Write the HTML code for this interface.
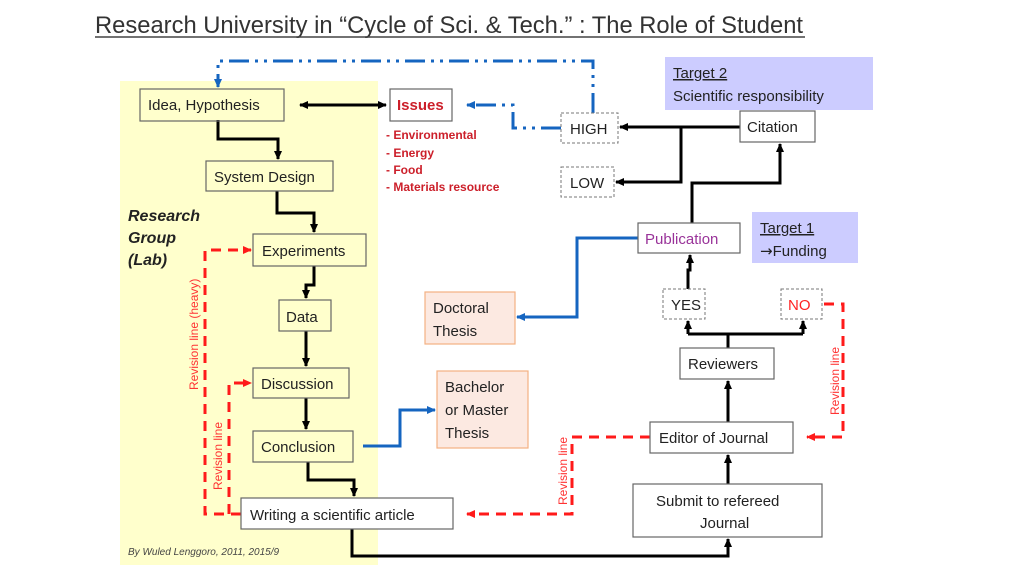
<!DOCTYPE html>
<html><head><meta charset="utf-8"><style>
html,body{margin:0;padding:0;background:#fff;}
svg{display:block;font-family:"Liberation Sans",sans-serif;}
</style></head><body>
<svg width="1024" height="576" viewBox="0 0 1024 576" xmlns="http://www.w3.org/2000/svg">
<defs>
<marker id="ak" markerWidth="10" markerHeight="10" refX="8" refY="5" orient="auto" markerUnits="userSpaceOnUse"><path d="M0,1 L9,5 L0,9 z" fill="#000"/></marker>
<marker id="akr" markerWidth="10" markerHeight="10" refX="1" refY="5" orient="auto" markerUnits="userSpaceOnUse"><path d="M9,1 L0,5 L9,9 z" fill="#000"/></marker>
<marker id="ab" markerWidth="10" markerHeight="10" refX="8" refY="5" orient="auto" markerUnits="userSpaceOnUse"><path d="M0,1 L9,5 L0,9 z" fill="#1565c0"/></marker>
<marker id="ar" markerWidth="10" markerHeight="10" refX="8" refY="5" orient="auto" markerUnits="userSpaceOnUse"><path d="M0,1 L9,5 L0,9 z" fill="#ff1a1a"/></marker>
</defs>

<text x="95" y="33" font-size="24" fill="#333" textLength="708" lengthAdjust="spacingAndGlyphs">Research University in “Cycle of Sci. &amp; Tech.” : The Role of Student</text>
<line x1="95" y1="37" x2="805" y2="37" stroke="#444" stroke-width="1.5"/>

<rect x="120" y="81" width="258" height="484" fill="#ffffcc"/>

<rect x="665" y="57" width="208" height="53" fill="#ccccff"/>
<text x="673" y="78" font-size="15" fill="#222" text-decoration="underline">Target 2</text>
<text x="673" y="101" font-size="15" fill="#222">Scientific responsibility</text>
<rect x="752" y="212" width="106" height="51" fill="#ccccff"/>
<text x="760" y="233" font-size="15" fill="#222" text-decoration="underline">Target 1</text>
<text x="760" y="256" font-size="15" fill="#222"><tspan font-family="DejaVu Sans">→</tspan>Funding</text>

<g fill="none" stroke="#000" stroke-width="3">
<path d="M218,120 V139 H278 V159" marker-end="url(#ak)"/>
<path d="M277,191 V213 H314 V232" marker-end="url(#ak)"/>
<path d="M314,266 V285 H306 V298" marker-end="url(#ak)"/>
<path d="M306,331 V366" marker-end="url(#ak)"/>
<path d="M306,398 V429" marker-end="url(#ak)"/>
<path d="M308,462 V480 H354 V496" marker-end="url(#ak)"/>
<path d="M352,529 V556 H728 V539" marker-end="url(#ak)"/>
<path d="M728,484 V455" marker-end="url(#ak)"/>
<path d="M728,422 V381" marker-end="url(#ak)"/>
<path d="M728,348 V334 M688,334 H803" />
<path d="M688,334 V321" marker-end="url(#ak)"/>
<path d="M803,334 V321" marker-end="url(#ak)"/>
<path d="M688,289 V270 H690 V255" marker-end="url(#ak)"/>
<path d="M692,223 V183 H780 V144" marker-end="url(#ak)"/>
<path d="M740,127 H620" marker-end="url(#ak)"/>
<path d="M681,127 V182 H616" marker-end="url(#ak)"/>
<path d="M300,105 H386" marker-end="url(#ak)" marker-start="url(#akr)"/>
</g>

<g fill="none" stroke="#1565c0" stroke-width="3">
<path d="M638,238 H577 V317 H517" marker-end="url(#ab)"/>
<path d="M363,446 H400 V410 H435" marker-end="url(#ab)"/>
<path d="M593,113 V61 H218 V87" stroke-dasharray="20,6,3,6,3,6" marker-end="url(#ab)"/>
<path d="M561,128 H513 V105 H467" stroke-dasharray="20,6,3,6,3,6" marker-end="url(#ab)"/>
</g>

<g fill="none" stroke="#ff1a1a" stroke-width="3" stroke-dasharray="10,7">
<path d="M241,514 H205 V250 H251" marker-end="url(#ar)"/>
<path d="M229,514 V383 H251" marker-end="url(#ar)"/>
<path d="M650,437 H572 V514 H467" marker-end="url(#ar)"/>
<path d="M824,304 H843 V437 H807" marker-end="url(#ar)"/>
</g>
<g font-size="12" fill="#ff3333">
<text transform="translate(198,390) rotate(-90)">Revision line (heavy)</text>
<text transform="translate(222,490) rotate(-90)">Revision line</text>
<text transform="translate(567,505) rotate(-90)">Revision line</text>
<text transform="translate(839,415) rotate(-90)">Revision line</text>
</g>

<g stroke="#666" stroke-width="1.2" fill="#fff">
<rect x="140" y="89" width="144" height="32" fill="none"/>
<rect x="390" y="89" width="62" height="32"/>
<rect x="206" y="161" width="127" height="30" fill="none"/>
<rect x="253" y="234" width="113" height="32" fill="none"/>
<rect x="279" y="300" width="52" height="31" fill="none"/>
<rect x="253" y="368" width="96" height="30" fill="none"/>
<rect x="253" y="431" width="100" height="31" fill="none"/>
<rect x="241" y="498" width="212" height="31"/>
<rect x="740" y="111" width="75" height="31"/>
<rect x="638" y="223" width="102" height="30"/>
<rect x="680" y="348" width="94" height="31"/>
<rect x="650" y="422" width="143" height="31"/>
<rect x="633" y="484" width="189" height="53"/>
</g>
<g stroke="#777" stroke-width="1" stroke-dasharray="3,2" fill="#fff">
<rect x="561" y="113" width="57" height="30"/>
<rect x="561" y="167" width="53" height="30"/>
<rect x="663" y="289" width="42" height="30"/>
<rect x="781" y="289" width="41" height="30"/>
</g>
<g stroke="#f4b183" stroke-width="1.2" fill="#fce9e1">
<rect x="425" y="292" width="90" height="52"/>
<rect x="437" y="371" width="91" height="77"/>
</g>

<g font-size="15" fill="#222">
<text x="148" y="110">Idea, Hypothesis</text>
<text x="214" y="182">System Design</text>
<text x="262" y="256">Experiments</text>
<text x="286" y="322">Data</text>
<text x="261" y="389">Discussion</text>
<text x="261" y="452">Conclusion</text>
<text x="250" y="520">Writing a scientific article</text>
<text x="433" y="313">Doctoral</text>
<text x="433" y="336">Thesis</text>
<text x="445" y="392">Bachelor</text>
<text x="445" y="415">or Master</text>
<text x="445" y="438">Thesis</text>
<text x="570" y="134">HIGH</text>
<text x="570" y="188">LOW</text>
<text x="747" y="132">Citation</text>
<text x="671" y="310">YES</text>
<text x="688" y="369">Reviewers</text>
<text x="659" y="443">Editor of Journal</text>
<text x="656" y="506">Submit to refereed</text>
<text x="700" y="528">Journal</text>
</g>
<text x="645" y="244" font-size="15" fill="#993399">Publication</text>
<text x="788" y="310" font-size="15" fill="#ff2222">NO</text>
<text x="397" y="110" font-size="15" font-weight="bold" fill="#cc1f2a">Issues</text>
<g font-size="12" font-weight="bold" fill="#cc1f2a">
<text x="386" y="139">- Environmental</text>
<text x="386" y="157">- Energy</text>
<text x="386" y="174">- Food</text>
<text x="386" y="191">- Materials resource</text>
</g>
<g font-size="16" font-weight="bold" font-style="italic" fill="#222">
<text x="128" y="221">Research</text>
<text x="128" y="243">Group</text>
<text x="128" y="265">(Lab)</text>
</g>
<text x="128" y="555" font-size="10" font-style="italic" fill="#444">By Wuled Lenggoro, 2011, 2015/9</text>
</svg>
</body></html>
